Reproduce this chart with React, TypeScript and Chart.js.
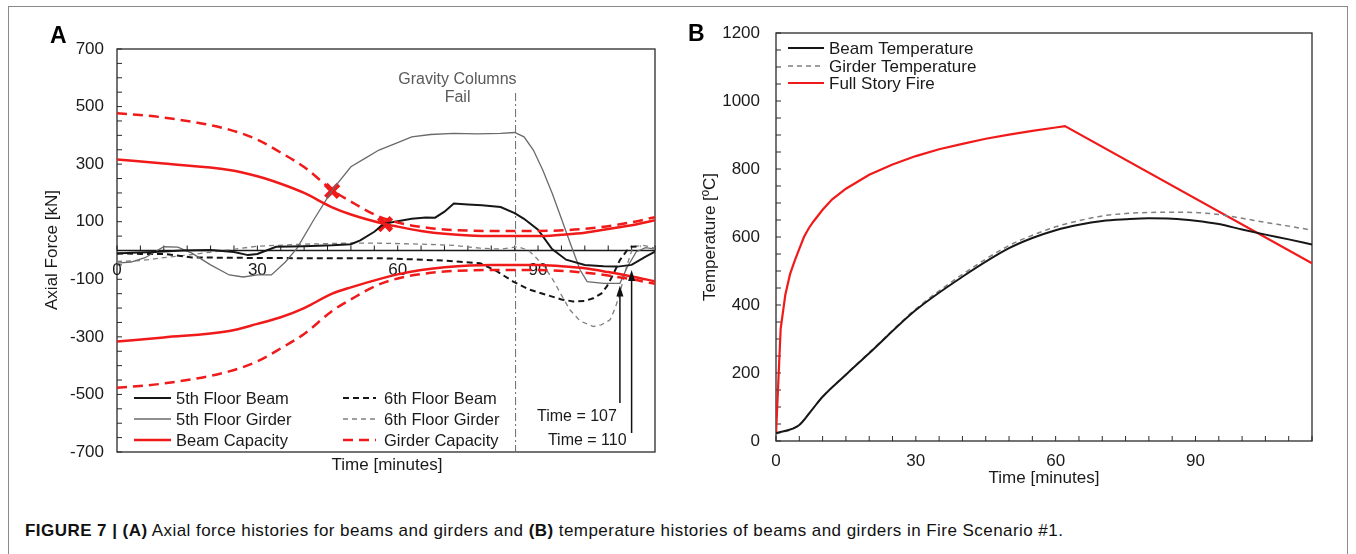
import React, { useEffect, useRef } from "react";
import { Chart, registerables } from "chart.js";

Chart.register(...registerables);

const FONT = "'Liberation Sans', Arial, Helvetica, sans-serif";
const RED = "#f01a1a";
const BLACK = "#161616";
const GRAY = "#6a6a6a";
const GRAY_D = "#808080";

// ---------------- Panel A : axial force [kN] vs time [min] ----------------
const beam5Time = [0, 3, 8, 14, 20, 25, 28, 30, 34, 40, 46, 50, 52, 55, 57, 60, 63, 66, 68, 70, 72, 75, 78, 82, 85, 87, 90, 93, 96, 100, 104, 107, 110, 113, 115];
const beam5Force = [-10, -8, -5, 0, 2, -5, -16, -12, 13, 15, 18, 22, 35, 65, 92, 102, 110, 115, 114, 135, 163, 160, 157, 151, 130, 110, 72, 5, -32, -50, -55, -56, -50, -21, -4];

const girder5Time = [0, 3, 6, 10, 13, 16, 20, 24, 27, 30, 33, 36, 38.5, 42, 46, 50, 53, 56, 60, 63, 67, 72, 77, 82, 85, 87, 89, 91, 93, 95, 97, 99, 100.5, 104, 107.5, 109, 111, 113, 115];
const girder5Force = [-44, -40, -25, 13, 12, -9, -50, -85, -92, -85, -85, -40, 8, 105, 210, 291, 320, 349, 375, 395, 403, 407, 405, 407, 410, 395, 349, 280, 200, 110, 20, -68, -108, -114, -114, -60, -4, 10, 5];

const beam6Time = [0, 5, 10, 16, 30, 45, 57, 70, 77.6, 81, 84.7, 88, 91.8, 95, 97.5, 100, 101.8, 103.5, 104.7, 106, 107.5, 109, 110, 112];
const beam6Force = [-10, -12, -12, -24, -26, -27, -27, -35, -44, -70, -108, -135, -154, -170, -177, -175, -166, -150, -125, -85, -33, 0, 13, 15];

const girder6Time = [0, 5, 10, 16, 22, 30, 40, 50, 57.7, 65, 72, 77.6, 82, 85.8, 88, 89.7, 91.5, 93.2, 95, 96.8, 99, 101.8, 103.5, 105.4, 106.5, 107.5, 108.9, 110.3, 112.5, 115];
const girder6Force = [-38, -35, -25, -14, -2, 15, 22, 26, 25, 22, 18, 8, 5, 13, 0, -27, -60, -102, -155, -206, -245, -264, -258, -241, -200, -148, -56, 13, 18, 8];

const beamCapTime = [0, 10, 24, 30, 35, 40, 46, 50, 57, 60, 65, 70, 80, 90, 95, 100, 105, 110, 115];
const beamCapTension = [316, 302, 280, 258, 232, 200, 150, 125, 93, 83, 68, 58, 50, 50, 55, 62, 75, 88, 105];
const beamCapCompression = [-316, -302, -280, -255, -232, -200, -150, -128, -95, -83, -68, -58, -50, -50, -55, -62, -75, -90, -107];

const girderCapTime = [0, 10, 24, 30, 35, 40, 46, 50, 55, 60, 65, 70, 80, 90, 100, 110, 115];
const girderCapTension = [477, 462, 420, 385, 340, 290, 210, 170, 125, 97, 82, 73, 68, 68, 75, 98, 116];
const girderCapCompression = [-477, -462, -420, -385, -340, -290, -210, -170, -125, -97, -82, -73, -68, -68, -77, -100, -116];

const failTime = [46, 57.3];
const failForce = [207, 92];

const forceTickLabels = [700, 500, 300, 100, -100, -300, -500, -700];
const timeTickLabels = [0, 30, 60, 90];
const columnFailTime = 85.2;
const arrowTimes = [107.5, 110];
const arrowTipForce = [-122, -68];
const arrowLabels = ["Time = 107", "Time = 110"];

// ---------------- Panel B : temperature [°C] vs time [min] ----------------
const fireTime = [0, 1, 2, 3, 4, 5, 6, 7, 8, 10, 12, 15, 20, 25, 30, 35, 40, 45, 50, 55, 60, 62, 115];
const fireTemp = [20, 330, 430, 490, 530, 565, 600, 625, 645, 680, 710, 742, 783, 813, 838, 858, 874, 889, 901, 912, 922, 926, 523];

const beamTempTime = [0, 5, 7.5, 10, 15, 20, 30, 40, 50, 55, 60, 65, 70, 75, 80, 85, 90, 95, 100, 105, 110, 115];
const beamTemp = [23, 47, 88, 130, 195, 258, 385, 483, 567, 597, 620, 636, 647, 652, 655, 654, 648, 638, 622, 607, 593, 578];

const girderTempTime = [0, 5, 7.5, 10, 15, 20, 30, 40, 50, 55, 60, 65, 70, 75, 80, 85, 90, 95, 100, 105, 110, 115];
const girderTemp = [20, 47, 88, 130, 196, 260, 388, 490, 575, 605, 630, 648, 662, 669, 672, 673, 672, 666, 655, 643, 632, 620];

const tempTickLabels = [0, 200, 400, 600, 800, 1000, 1200];

const pts = (t: number[], v: number[]) => t.map((x, i) => ({ x, y: v[i] }));

function seg(ctx: CanvasRenderingContext2D, x1: number, y1: number, x2: number, y2: number) {
  ctx.beginPath();
  ctx.moveTo(x1, y1);
  ctx.lineTo(x2, y2);
  ctx.stroke();
}

function legendRow(ctx: CanvasRenderingContext2D, x: number, y: number, len: number, gap: number, label: string, color: string, width: number, dash: number[], fontPx: number) {
  ctx.save();
  ctx.strokeStyle = color;
  ctx.lineWidth = width;
  ctx.setLineDash(dash);
  seg(ctx, x, y, x + len, y);
  ctx.setLineDash([]);
  ctx.fillStyle = "#1a1a1a";
  ctx.font = `${fontPx}px ${FONT}`;
  ctx.textAlign = "left";
  ctx.textBaseline = "middle";
  ctx.fillText(label, x + len + gap, y + 1);
  ctx.restore();
}

function arrowUp(ctx: CanvasRenderingContext2D, x: number, yBottom: number, yTip: number) {
  ctx.save();
  ctx.strokeStyle = "#111";
  ctx.fillStyle = "#111";
  ctx.lineWidth = 1.5;
  seg(ctx, x, yBottom, x, yTip + 8);
  ctx.beginPath();
  ctx.moveTo(x, yTip);
  ctx.lineTo(x - 3.5, yTip + 11);
  ctx.lineTo(x + 3.5, yTip + 11);
  ctx.closePath();
  ctx.fill();
  ctx.restore();
}

const panelAPlugin = {
  id: "panelADecor",
  beforeDatasetsDraw(chart: any) {
    const { ctx, chartArea: a, scales } = chart;
    const xs = scales.x;
    const ys = scales.y;
    ctx.save();
    ctx.strokeStyle = "#2a2a2a";
    ctx.lineWidth = 1.3;
    ctx.strokeRect(a.left, a.top, a.right - a.left, a.bottom - a.top);
    ctx.lineWidth = 1;
    ys.ticks.forEach((t: any) => {
      const y = ys.getPixelForValue(t.value);
      seg(ctx, a.left, y, a.left + 5, y);
    });
    const y0 = ys.getPixelForValue(0);
    ctx.lineWidth = 1.5;
    ctx.strokeStyle = "#1a1a1a";
    seg(ctx, a.left, y0, a.right, y0);
    ctx.lineWidth = 1;
    for (let m = 0; m <= xs.max; m += 5) {
      const x = xs.getPixelForValue(m);
      seg(ctx, x, y0, x, y0 - 5);
    }
    ctx.fillStyle = "#1a1a1a";
    ctx.font = `17px ${FONT}`;
    ctx.textAlign = "center";
    ctx.textBaseline = "middle";
    timeTickLabels.forEach((v) => ctx.fillText(String(v), xs.getPixelForValue(v), y0 + 20));
    const xf = xs.getPixelForValue(columnFailTime);
    ctx.strokeStyle = "#6a6a6a";
    ctx.lineWidth = 1;
    ctx.setLineDash([8, 3, 2, 3]);
    seg(ctx, xf, 93, xf, a.bottom);
    ctx.setLineDash([]);
    ctx.restore();
  },
  afterDraw(chart: any) {
    const { ctx, chartArea: a, scales } = chart;
    const xs = scales.x;
    const ys = scales.y;
    ctx.save();
    ctx.fillStyle = "#000";
    ctx.font = `bold 23px ${FONT}`;
    ctx.textAlign = "left";
    ctx.textBaseline = "alphabetic";
    ctx.fillText("A", 50, 43);
    ctx.fillStyle = "#1a1a1a";
    ctx.font = `17px ${FONT}`;
    ctx.textAlign = "center";
    ctx.textBaseline = "middle";
    ctx.fillText("Time [minutes]", 387, 465);
    ctx.save();
    ctx.translate(52, 250);
    ctx.rotate(-Math.PI / 2);
    ctx.fillText("Axial Force [kN]", 0, 0);
    ctx.restore();
    const xf = xs.getPixelForValue(columnFailTime);
    ctx.fillStyle = "#5a5a5a";
    ctx.font = `16px ${FONT}`;
    ctx.textAlign = "right";
    ctx.fillText("Gravity Columns", xf + 1, 80);
    ctx.textAlign = "center";
    ctx.fillText("Fail", xf - 58, 98);
    const bottoms = [403, 433];
    const textY = [417, 441];
    const shift = [3, 5];
    arrowTimes.forEach((t, i) => {
      const x = xs.getPixelForValue(t);
      arrowUp(ctx, x, bottoms[i], ys.getPixelForValue(arrowTipForce[i]));
      ctx.fillStyle = "#1a1a1a";
      ctx.font = `16px ${FONT}`;
      ctx.textAlign = "right";
      ctx.textBaseline = "middle";
      ctx.fillText(arrowLabels[i], x - shift[i], textY[i]);
    });
    const ds = chart.data.datasets;
    const rows = [398, 419, 440];
    const col1 = [4, 5, 0];
    const col2 = [6, 7, 2];
    col1.forEach((di, r) => {
      const d = ds[di];
      legendRow(ctx, a.left + 17, rows[r], 37, 5, d.label, d.borderColor, d.borderWidth, d.borderDash || [], 16.5);
    });
    col2.forEach((di, r) => {
      const d = ds[di];
      legendRow(ctx, a.left + 226, rows[r], 33, 8, d.label, d.borderColor, d.borderWidth, d.borderDash || [], 16.5);
    });
    ctx.restore();
  },
};

const panelBPlugin = {
  id: "panelBDecor",
  beforeDatasetsDraw(chart: any) {
    const { ctx, chartArea: a, scales } = chart;
    const xs = scales.x;
    const ys = scales.y;
    ctx.save();
    ctx.strokeStyle = "#2a2a2a";
    ctx.lineWidth = 1.3;
    ctx.strokeRect(a.left, a.top, a.right - a.left, a.bottom - a.top);
    ctx.lineWidth = 1;
    ys.ticks.forEach((t: any) => {
      const y = ys.getPixelForValue(t.value);
      seg(ctx, a.left, y, a.left + 5, y);
    });
    xs.ticks.forEach((t: any) => {
      const x = xs.getPixelForValue(t.value);
      seg(ctx, x, a.bottom, x, a.bottom - 5);
    });
    ctx.restore();
  },
  afterDraw(chart: any) {
    const { ctx, chartArea: a } = chart;
    ctx.save();
    ctx.fillStyle = "#000";
    ctx.font = `bold 23px ${FONT}`;
    ctx.textAlign = "left";
    ctx.textBaseline = "alphabetic";
    ctx.fillText("B", 8, 41);
    ctx.fillStyle = "#1a1a1a";
    ctx.font = `17px ${FONT}`;
    ctx.textAlign = "center";
    ctx.textBaseline = "middle";
    ctx.fillText("Time [minutes]", 364, 478);
    ctx.save();
    ctx.translate(30, 237);
    ctx.rotate(-Math.PI / 2);
    ctx.fillText("Temperature [ºC]", 0, 0);
    ctx.restore();
    const ds = chart.data.datasets;
    const rows = [48, 66, 83];
    [0, 1, 2].forEach((di, r) => {
      const d = ds[di];
      legendRow(ctx, a.left + 12, rows[r], 36, 5, d.label, d.borderColor, d.borderWidth, d.borderDash || [], 17);
    });
    ctx.restore();
  },
};

function PanelA() {
  const ref = useRef<HTMLCanvasElement | null>(null);
  useEffect(() => {
    if (!ref.current) return;
    const lineDs = (label: string, data: any[], color: string, width: number, dash: number[] = [], smooth = false) => ({
      label,
      data,
      borderColor: color,
      borderWidth: width,
      borderDash: dash,
      pointRadius: 0,
      fill: false,
      tension: 0,
      cubicInterpolationMode: smooth ? "monotone" : "default",
    });
    const chart = new Chart(ref.current, {
      type: "line",
      data: {
        datasets: [
          lineDs("Beam Capacity", pts(beamCapTime, beamCapTension), RED, 2.5, [], true),
          lineDs("Beam Capacity (compression)", pts(beamCapTime, beamCapCompression), RED, 2.5, [], true),
          lineDs("Girder Capacity", pts(girderCapTime, girderCapTension), RED, 2.5, [10, 6], true),
          lineDs("Girder Capacity (compression)", pts(girderCapTime, girderCapCompression), RED, 2.5, [10, 6], true),
          lineDs("5th Floor Beam", pts(beam5Time, beam5Force), BLACK, 2),
          lineDs("5th Floor Girder", pts(girder5Time, girder5Force), GRAY, 1.3),
          lineDs("6th Floor Beam", pts(beam6Time, beam6Force), BLACK, 2, [6, 4]),
          lineDs("6th Floor Girder", pts(girder6Time, girder6Force), GRAY_D, 1.3, [5, 4]),
          {
            label: "Capacity exceeded",
            data: pts(failTime, failForce),
            showLine: false,
            pointStyle: "crossRot",
            pointRadius: 9,
            pointBorderWidth: 5,
            pointBorderColor: RED,
            pointBackgroundColor: RED,
            borderColor: RED,
          } as any,
        ],
      },
      options: {
        responsive: false,
        animation: false,
        devicePixelRatio: 1,
        layout: { padding: { left: 0, top: 49, right: 25, bottom: 48 } },
        plugins: { legend: { display: false }, tooltip: { enabled: false } },
        scales: {
          x: { type: "linear", min: 0, max: 115, display: false },
          y: {
            type: "linear",
            min: -700,
            max: 700,
            position: "left",
            afterFit: (s: any) => {
              s.width = 117;
            },
            grid: { display: false, drawTicks: false },
            border: { display: false },
            ticks: {
              stepSize: 50,
              autoSkip: false,
              padding: 13,
              color: "#1a1a1a",
              font: { family: FONT, size: 17 },
              callback: (v: any) => (forceTickLabels.includes(Number(v)) ? String(v) : ""),
            },
          },
        },
      } as any,
      plugins: [panelAPlugin],
    });
    return () => chart.destroy();
  }, []);
  return <canvas ref={ref} width={680} height={500} style={{ position: "absolute", left: 0, top: 0 }} />;
}

function PanelB() {
  const ref = useRef<HTMLCanvasElement | null>(null);
  useEffect(() => {
    if (!ref.current) return;
    const chart = new Chart(ref.current, {
      type: "line",
      data: {
        datasets: [
          { label: "Beam Temperature", data: pts(beamTempTime, beamTemp), borderColor: BLACK, borderWidth: 2, borderDash: [], pointRadius: 0, cubicInterpolationMode: "monotone" },
          { label: "Girder Temperature", data: pts(girderTempTime, girderTemp), borderColor: GRAY_D, borderWidth: 1.5, borderDash: [5, 4], pointRadius: 0, cubicInterpolationMode: "monotone" },
          { label: "Full Story Fire", data: pts(fireTime, fireTemp), borderColor: RED, borderWidth: 2.2, borderDash: [], pointRadius: 0, tension: 0 },
        ] as any,
      },
      options: {
        responsive: false,
        animation: false,
        devicePixelRatio: 1,
        layout: { padding: { left: 0, top: 33, right: 44, bottom: 0 } },
        plugins: { legend: { display: false }, tooltip: { enabled: false } },
        scales: {
          x: {
            type: "linear",
            min: 0,
            max: 115,
            position: "bottom",
            afterFit: (s: any) => {
              s.height = 59;
            },
            grid: { display: false, drawTicks: false },
            border: { display: false },
            ticks: {
              stepSize: 5,
              autoSkip: false,
              maxRotation: 0,
              padding: 10,
              color: "#1a1a1a",
              font: { family: FONT, size: 17 },
              callback: (v: any) => (timeTickLabels.includes(Number(v)) ? String(v) : ""),
            },
          },
          y: {
            type: "linear",
            min: 0,
            max: 1200,
            position: "left",
            afterFit: (s: any) => {
              s.width = 96;
            },
            grid: { display: false, drawTicks: false },
            border: { display: false },
            ticks: {
              stepSize: 50,
              autoSkip: false,
              padding: 16,
              color: "#1a1a1a",
              font: { family: FONT, size: 17 },
              callback: (v: any) => (tempTickLabels.includes(Number(v)) ? String(v) : ""),
            },
          },
        },
      } as any,
      plugins: [panelBPlugin],
    });
    return () => chart.destroy();
  }, []);
  return <canvas ref={ref} width={676} height={500} style={{ position: "absolute", left: 680, top: 0 }} />;
}

export default function App() {
  return (
    <div style={{ position: "absolute", left: 0, top: 0, width: 1356, height: 554, overflow: "hidden", background: "#fff" }}>
      <div
        style={{
          position: "absolute",
          left: 8,
          top: 6,
          width: 1340,
          height: 560,
          border: "1.5px solid #8a8a8a",
          boxSizing: "border-box",
        }}
      />
      <PanelA />
      <PanelB />
      <div
        style={{
          position: "absolute",
          left: 25,
          top: 521,
          fontFamily: FONT,
          fontSize: 17,
          letterSpacing: "0.45px",
          lineHeight: "20px",
          color: "#111",
          whiteSpace: "nowrap",
        }}
      >
        <b>FIGURE 7 | (A)</b> Axial force histories for beams and girders and <b>(B)</b> temperature histories of beams and girders in Fire Scenario #1.
      </div>
    </div>
  );
}
